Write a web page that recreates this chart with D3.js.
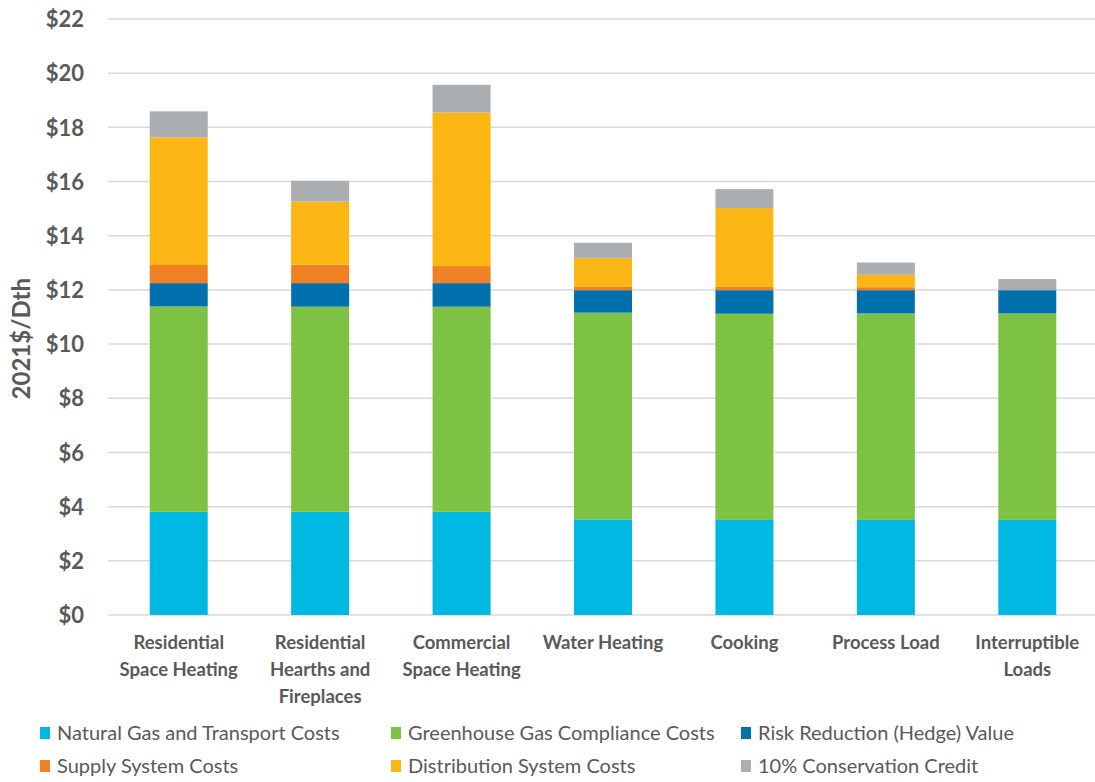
<!DOCTYPE html>
<html>
<head>
<meta charset="utf-8">
<script src="https://cdn.jsdelivr.net/npm/d3@7"></script>
<style>
    body { margin: 0; background: #fff; }
    svg text { font-family: Lato, "Open Sans", sans-serif; fill: #595959; }
</style>
</head>
<body>
<svg id="chart"></svg>
<script>
// category labels, one array of lines each
const categories = [
    ['Residential', 'Space Heating'],
    ['Residential', 'Hearths and', 'Fireplaces'],
    ['Commercial', 'Space Heating'],
    ['Water Heating'],
    ['Cooking'],
    ['Process Load'],
    ['Interruptible', 'Loads']
]

// 2021$/Dth
const naturalGas = [3.81, 3.81, 3.81, 3.53, 3.51, 3.51, 3.51]
const greenhouse = [7.58, 7.57, 7.57, 7.63, 7.61, 7.62, 7.62]
const riskReduction = [0.86, 0.87, 0.87, 0.83, 0.87, 0.86, 0.86]
const supplySystem = [0.67, 0.68, 0.63, 0.12, 0.12, 0.11, 0]
const distribution = [4.71, 2.33, 5.67, 1.06, 2.91, 0.46, 0]
const conservation = [0.96, 0.77, 1.02, 0.57, 0.70, 0.45, 0.41]

const seriesNames = [
    'Natural Gas and Transport Costs',
    'Greenhouse Gas Compliance Costs',
    'Risk Reduction (Hedge) Value',
    'Supply System Costs',
    'Distribution System Costs',
    '10% Conservation Credit'
]
const yTicks = [0, 2, 4, 6, 8, 10, 12, 14, 16, 18, 20, 22]

const colors = ['#00b9e3', '#7dc242', '#0071ad', '#f08024', '#fcb614', '#abaeb0']

const chart = {}
chart.width = 1095
chart.height = 782
chart.margin = {top: 19, right: 0, bottom: 167, left: 108}

chart.svg = d3.select('#chart')
    .attr('width', chart.width)
    .attr('height', chart.height)

const keys = ['naturalGas', 'greenhouse', 'riskReduction', 'supplySystem', 'distribution', 'conservation']
const values = [naturalGas, greenhouse, riskReduction, supplySystem, distribution, conservation]
const table = categories.map((c, i) => {
    const row = {name: c.join(' ')}
    keys.forEach((k, j) => { row[k] = values[j][i] })
    return row
})

const x = d3.scaleBand()
    .domain(table.map(d => d.name))
    .range([chart.margin.left, 1098])
    .paddingInner(0.59)
    .paddingOuter(0.295)

const y = d3.scaleLinear()
    .domain([0, 22])
    .range([chart.height - chart.margin.bottom, chart.margin.top])

// gridlines
chart.svg.append('g')
    .selectAll('line')
    .data(yTicks)
    .join('line')
    .attr('x1', chart.margin.left)
    .attr('x2', chart.width)
    .attr('y1', d => y(d))
    .attr('y2', d => y(d))
    .attr('stroke', '#d9d9d9')
    .attr('stroke-width', 1.5)

// y axis labels
const yAxis = chart.svg.append('g')
    .attr('transform', `translate(${chart.margin.left - 24}, 0)`)
    .call(d3.axisLeft(y).tickValues(yTicks).tickSize(0).tickFormat(d => '$' + d))
yAxis.select('.domain').remove()
yAxis.selectAll('text')
    .attr('x', 0)
    .attr('dy', '0.35em')
    .style('font-size', '22px')
    .style('font-weight', 'bold')
    .style('fill', '#595959')

chart.svg.append('text')
    .attr('transform', `translate(30, ${y(10.2)}) rotate(-90)`)
    .attr('text-anchor', 'middle')
    .style('font-size', '24px')
    .style('font-weight', 'bold')
    .text('2021$/Dth')

// stacked bars
const stacked = d3.stack().keys(keys)(table)
chart.svg.append('g')
    .selectAll('g')
    .data(stacked)
    .join('g')
    .attr('fill', (d, i) => colors[i])
    .selectAll('rect')
    .data(d => d)
    .join('rect')
    .attr('x', d => x(d.data.name))
    .attr('width', x.bandwidth())
    .attr('y', d => y(d[1]))
    .attr('height', d => y(d[0]) - y(d[1]))

// category labels
const labels = chart.svg.append('g')
    .selectAll('text')
    .data(categories)
    .join('text')
    .attr('x', (d, i) => x(table[i].name) + x.bandwidth() / 2)
    .attr('y', 649)
    .attr('text-anchor', 'middle')
    .style('font-size', '18.5px')
    .style('font-weight', 'bold')
labels.selectAll('tspan')
    .data(d => d)
    .join('tspan')
    .attr('x', function() { return this.parentNode.getAttribute('x') })
    .attr('dy', (d, i) => i === 0 ? 0 : 27)
    .text(d => d)

// legend
const legendX = [40, 391, 741]
const legendY = [733, 766]
const legend = chart.svg.append('g')
    .selectAll('g')
    .data(seriesNames)
    .join('g')
    .attr('transform', (d, i) => `translate(${legendX[i % 3]}, ${legendY[Math.floor(i / 3)]})`)
legend.append('rect')
    .attr('x', 0)
    .attr('y', -6)
    .attr('width', 10)
    .attr('height', 12)
    .attr('fill', (d, i) => colors[i])
legend.append('text')
    .attr('x', 17)
    .attr('dy', '0.35em')
    .style('font-size', '20px')
    .text(d => d)
</script>
</body>
</html>
